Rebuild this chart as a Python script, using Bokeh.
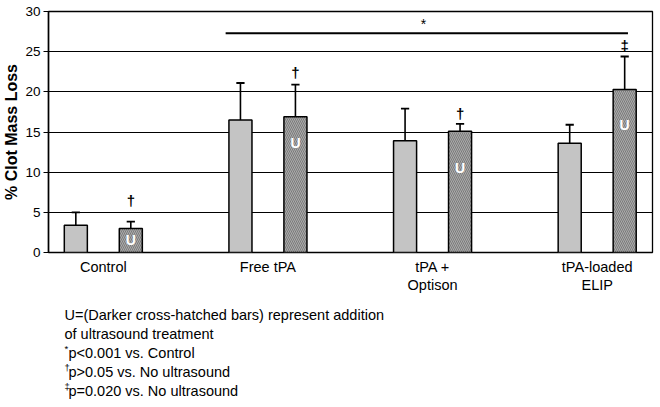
import math
from bokeh.plotting import figure
from bokeh.layouts import column
from bokeh.models import ColumnDataSource, FixedTicker, Range1d
from bokeh.embed import file_html
from bokeh.resources import INLINE
from bokeh.core.properties import value

# ---------------- data ----------------
categories = ["Control", "Free tPA", "tPA + Optison", "tPA-loaded ELIP"]
category_lines = [["Control"], ["Free tPA"], ["tPA +", "Optison"], ["tPA-loaded", "ELIP"]]
no_us_mean = [3.4, 16.5, 13.9, 13.6]
no_us_sd = [1.6, 4.6, 4.0, 2.3]
us_mean = [3.0, 16.9, 15.1, 20.3]
us_sd = [0.85, 4.0, 0.9, 4.1]
us_marks = ["\u2020", "\u2020", "\u2020", "\u2021"]
us_mark_y = [6.5, 22.4, 17.3, 25.8]
u_label_y = [1.5, 13.6, 10.5, 15.9]
sig_star = "*"
sig_star_y = 28.5
sig_line_y = 27.3
sig_groups = [1, 3]
y_ticks = [0, 5, 10, 15, 20, 25, 30]
y_title = "% Clot Mass Loss"
footnote_marks = ["", "", "*", "\u2020", "\u2021"]
footnote_texts = [
    "U=(Darker cross-hatched bars) represent addition",
    "of ultrasound treatment",
    "p<0.001 vs. Control",
    "p>0.05 vs. No ultrasound",
    "p=0.020 vs. No ultrasound",
]

# ---------------- layout ----------------
FONT = "Liberation Sans"
W = 660
H1 = 297                 # chart part (with category axis)
H2 = 407 - H1            # footnote part below
FL, FT, FR, FB = 47, 11, 652, 252   # frame edges in page pixels
X0, X1 = -0.333, 3.336
Y0, Y1 = 0, 30

bar_w = 0.14
off = 0.167
x_idx = list(range(len(categories)))
x_no = [i - off for i in x_idx]
x_us = [i + off for i in x_idx]

xr = Range1d(X0, X1)
p = figure(width=W, height=H1, output_backend="svg", toolbar_location=None,
           x_range=xr, y_range=Range1d(Y0, Y1),
           min_border_left=FL, min_border_right=W - FR, min_border_top=FT,
           min_border_bottom=H1 - FB)
p.background_fill_color = "white"
p.border_fill_color = "white"
p.outline_line_color = "black"
p.outline_line_width = 1.3

p.xgrid.visible = False
p.ygrid.ticker = FixedTicker(ticks=y_ticks)
p.ygrid.grid_line_color = "black"
p.ygrid.grid_line_width = 1.2
p.ygrid.grid_line_alpha = 1.0

xa = p.xaxis[0]
xa.ticker = FixedTicker(ticks=x_idx)
xa.major_label_overrides = {i: "\n".join(lines) for i, lines in enumerate(category_lines)}
xa.axis_line_color = None
xa.major_tick_line_color = None
xa.minor_tick_line_color = None
xa.major_tick_out = 0
xa.major_tick_in = 0
xa.major_label_standoff = 6
xa.major_label_text_font = FONT
xa.major_label_text_font_size = "14.5px"
xa.major_label_text_color = "black"
xa.major_label_text_line_height = 1.17

ya = p.yaxis[0]
ya.ticker = FixedTicker(ticks=y_ticks)
ya.major_tick_out = 5
ya.major_tick_in = 0
ya.minor_tick_line_color = None
ya.major_tick_line_color = "black"
ya.axis_line_color = "black"
ya.axis_line_width = 1.5
ya.major_label_standoff = 3
ya.major_label_text_font = FONT
ya.major_label_text_font_size = "13.5px"
ya.major_label_text_color = "black"
ya.axis_label = y_title
ya.axis_label_text_font = FONT
ya.axis_label_text_font_size = "16px"
ya.axis_label_text_font_style = "bold"
ya.axis_label_text_color = "black"
ya.axis_label_standoff = 2

src_no = ColumnDataSource(dict(x=x_no, top=no_us_mean,
                               etop=[m + s for m, s in zip(no_us_mean, no_us_sd)]))
src_us = ColumnDataSource(dict(x=x_us, top=us_mean,
                               etop=[m + s for m, s in zip(us_mean, us_sd)],
                               mark=us_marks, mark_y=us_mark_y, uy=u_label_y,
                               u=["U"] * len(us_mean)))

cap = 0.025
for src in (src_no, src_us):
    p.segment(x0="x", y0="top", x1="x", y1="etop", source=src, line_color="black", line_width=1.6)
    xs = src.data["x"]
    tops = src.data["etop"]
    p.segment(x0=[x - cap for x in xs], y0=tops, x1=[x + cap for x in xs], y1=tops,
              line_color="black", line_width=1.8)

p.vbar(x="x", top="top", bottom=0, width=bar_w, source=src_no,
       fill_color="#c4c4c4", line_color="black", line_width=1.5)
p.vbar(x="x", top="top", bottom=0, width=bar_w, source=src_us,
       fill_color="#ababab", line_color="black", line_width=1.5,
       hatch_pattern="left_diagonal_line", hatch_color="#7a7a7a",
       hatch_scale=4, hatch_weight=1)

p.text(x="x", y="uy", text="u", source=src_us, text_color="white",
       text_font=value(FONT), text_font_style="bold", text_font_size="14px",
       text_align="center", text_baseline="middle")
p.text(x="x", y="mark_y", text="mark", source=src_us, text_color="black",
       text_font=value(FONT), text_font_style="bold", text_font_size="15px",
       text_align="center", text_baseline="middle")

# significance line
sx0 = sig_groups[0] - off - bar_w / 2 - 0.02
sx1 = sig_groups[1] + off + 0.02
p.line(x=[sx0, sx1], y=[sig_line_y, sig_line_y], line_color="black", line_width=2)
p.text(x=[(sx0 + sx1) / 2 - 0.02], y=[sig_star_y], text=[sig_star], text_color="black",
       text_font=value(FONT), text_font_size="14px", text_align="center",
       text_baseline="middle")

# ---------------- footnote panel below (shares the x scale) ----------------
p2 = figure(width=W, height=H2, output_backend="svg", toolbar_location=None,
            x_range=xr, y_range=Range1d(H2, 0),   # y in pixels from the panel top
            x_axis_location=None, y_axis_location=None,
            min_border_left=FL, min_border_right=W - FR, min_border_top=0,
            min_border_bottom=0)
p2.outline_line_color = None
p2.grid.visible = False
p2.background_fill_color = "white"
p2.border_fill_color = "white"

PX_X = (FR - FL) / (X1 - X0)

def dx(px):   # page pixel -> shared data x
    return X0 + (px - FL) / PX_X

fx, fy, ft = [], [], []
sx, sy, st = [], [], []
for k, (mk, t) in enumerate(zip(footnote_marks, footnote_texts)):
    py = 314 + 19 * k - H1
    if mk:
        sx.append(dx(63)); sy.append(py - 4); st.append(mk)
        fx.append(dx(67))
    else:
        fx.append(dx(63))
    fy.append(py); ft.append(t)
p2.text(x=fx, y=fy, text=ft, text_font=value(FONT), text_font_size="14.5px",
        text_align="left", text_baseline="middle", text_color="black")
p2.text(x=sx, y=sy, text=st, text_font=value(FONT), text_font_size="9.5px",
        text_align="left", text_baseline="middle", text_color="black")

layout = column(p, p2, spacing=0)
open("out.html", "w").write(file_html(layout, INLINE))
